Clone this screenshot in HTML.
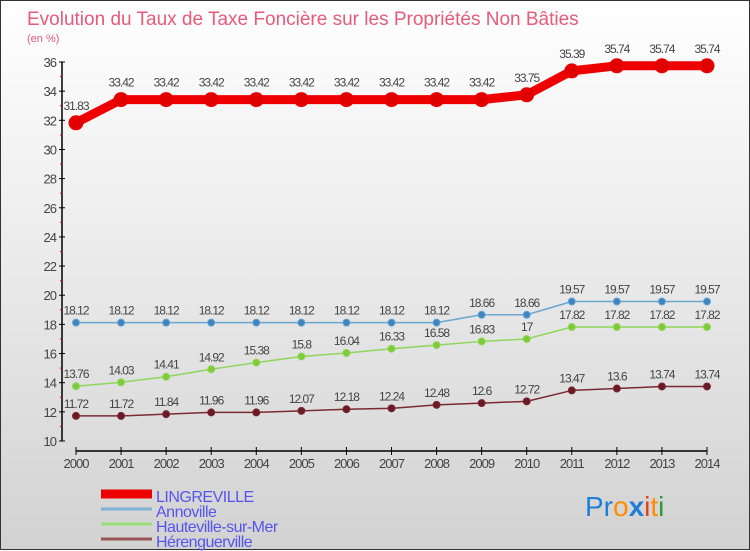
<!DOCTYPE html>
<html><head><meta charset="utf-8">
<style>
html,body{margin:0;padding:0}
body{width:750px;height:550px;overflow:hidden;font-family:"Liberation Sans",sans-serif}
#wrap{position:relative;width:748px;height:548px;border:1px solid #333;background:linear-gradient(#ffffff 0%,#eeeeee 40%,#d2d2d2 100%)}
svg{position:absolute;left:0;top:0}
</style></head>
<body>
<div id="wrap">
<svg id="chart" width="750" height="550">
<text x="26" y="24" font-size="19" fill="#e65a7a">Evolution du Taux de Taxe Foncière sur les Propriétés Non Bâties</text>
<text x="26" y="41" font-size="11" fill="#e65a7a">(en %)</text>
<text x="584" y="515" font-size="28"><tspan fill="#1f7fd8">Pr</tspan><tspan fill="#ff8c00">o</tspan><tspan fill="#1f7fd8" font-weight="bold">x</tspan><tspan fill="#e8401a">i</tspan><tspan fill="#ff8c00">t</tspan><tspan fill="#2a9d3a">i</tspan></text>
</svg>
</div>
<script>
const years=[2000,2001,2002,2003,2004,2005,2006,2007,2008,2009,2010,2011,2012,2013,2014];
const lingreville=[31.83,33.42,33.42,33.42,33.42,33.42,33.42,33.42,33.42,33.42,33.75,35.39,35.74,35.74,35.74];
const annoville=[18.12,18.12,18.12,18.12,18.12,18.12,18.12,18.12,18.12,18.66,18.66,19.57,19.57,19.57,19.57];
const hauteville=[13.76,14.03,14.41,14.92,15.38,15.8,16.04,16.33,16.58,16.83,17,17.82,17.82,17.82,17.82];
const herenguerville=[11.72,11.72,11.84,11.96,11.96,12.07,12.18,12.24,12.48,12.6,12.72,13.47,13.6,13.74,13.74];
const yTicks=[10,12,14,16,18,20,22,24,26,28,30,32,34,36];
const seriesNames=["LINGREVILLE","Annoville","Hauteville-sur-Mer","Hérenguerville"];

const svg=document.getElementById('chart');
const NS='http://www.w3.org/2000/svg';
const X0=75,X1=706,Y0=440,Y1=61,YMIN=10,YMAX=36;
function xs(i){return X0+(X1-X0)*i/(years.length-1);}
function ys(v){return Y0-(v-YMIN)/(YMAX-YMIN)*(Y0-Y1);}
function mk(tag,attrs){const e=document.createElementNS(NS,tag);for(const k in attrs)e.setAttribute(k,attrs[k]);svg.appendChild(e);return e;}

let ax=mk('line',{x1:61,y1:Y1,x2:61,y2:Y0,stroke:'#000','stroke-width':1.5});


yTicks.forEach(t=>{
  const y=ys(t);
  let tk=mk('line',{x1:58,y1:y,x2:64,y2:y,stroke:'#000'});
  
  
  let lb=mk('text',{x:55,y:y+5,'font-size':13,fill:'#444','text-anchor':'end','letter-spacing':'-1'});
  lb.textContent=t;
  
  
  if(t<YMAX){
    let mt=mk('line',{x1:59,y1:ys(t+1),x2:61,y2:ys(t+1),stroke:'#e00'});
    
    
  }
});
let xa=mk('line',{x1:X0,y1:450,x2:X1,y2:450,stroke:'#000','stroke-width':1.5});


years.forEach((yr,i)=>{
  let tk=mk('line',{x1:xs(i),y1:446,x2:xs(i),y2:454,stroke:'#000'});
  
  
  let lb=mk('text',{x:xs(i),y:467,'font-size':13,fill:'#444','text-anchor':'middle','letter-spacing':'-1'});
  lb.textContent=yr;
  
  
});

function drawSeries(vals,color,width,r,dot,name,labelDy){
  const pts=vals.map((v,i)=>xs(i)+','+ys(v)).join(' ');
  let pl=mk('polyline',{points:pts,fill:'none',stroke:color,'stroke-width':width,'stroke-linejoin':'round'});
  
  
  vals.forEach((v,i)=>{
    let c=mk('circle',{cx:xs(i),cy:ys(v),r:r,fill:dot,stroke:color,'stroke-width':1});
    
    
    let t=mk('text',{x:xs(i),y:ys(v)+labelDy,'font-size':12,fill:'#444','text-anchor':'middle','letter-spacing':'-1'});
    t.textContent=v;
    
    
  });
}
drawSeries(herenguerville,'#7a2a33',1.5,3.5,'#6a1a22','herenguerville',-8);
drawSeries(hauteville,'#8fd65a',1.5,3.5,'#7ecb3a','hauteville',-8);
drawSeries(annoville,'#6aa6d0',1.5,3.5,'#3d84c0','annoville',-8);
drawSeries(lingreville,'#ee0000',9,7,'#e00000','lingreville',-13);

const legColors=['#ee0000','#7fb3d5','#99dd77','#995555'];
const legW=[9,3,3,3];
seriesNames.forEach((n,i)=>{
  const y=492+i*15;
  let l=mk('line',{x1:100,y1:y+1,x2:151,y2:y+1,stroke:legColors[i],'stroke-width':legW[i]});
  
  
  let t=mk('text',{x:155,y:y+9,'font-size':16,fill:'#5555ee','letter-spacing':'-0.5'});
  t.textContent=n;
  
  
});
</script>
</body></html>
